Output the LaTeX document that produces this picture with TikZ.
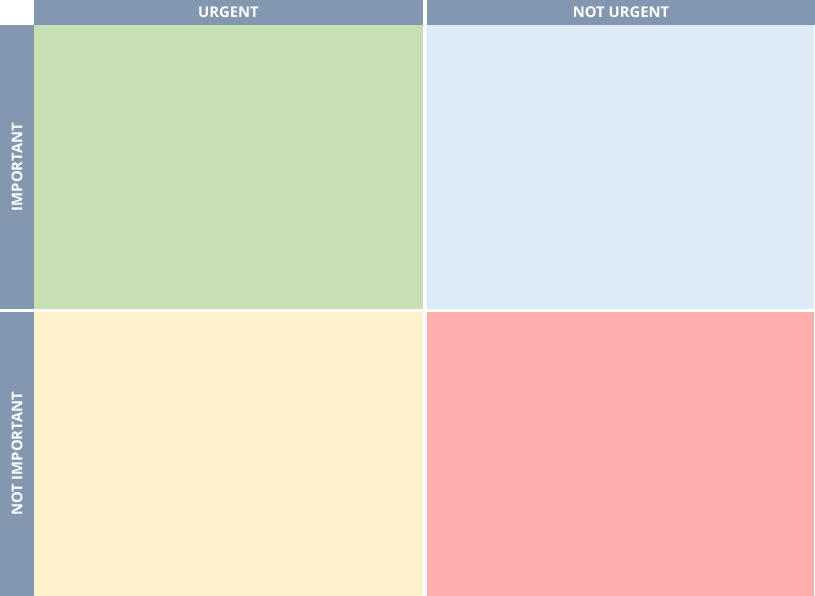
\documentclass[tikz,border=0pt]{standalone}
\usepackage{fontspec}
\setmainfont{Open Sans}
\definecolor{headgrey}{RGB}{132,151,176}
\definecolor{doGreen}{RGB}{198,224,180}
\definecolor{planBlue}{RGB}{221,235,247}
\definecolor{delegYellow}{RGB}{255,242,204}
\definecolor{dropRed}{RGB}{255,174,174}

\tikzset{
  cell/.style={anchor=north west,inner sep=0pt,outer sep=0pt,draw=none},
  headbar/.style={cell,fill=headgrey,text=white,font=\bfseries\fontsize{14.8}{17}\selectfont},
}

\begin{document}
\begin{tikzpicture}[x=1pt,y=-1pt]
        \fill[white] (0,0) rectangle (815,596);

        % column headers
        \node[headbar,minimum width=389pt,minimum height=25pt] (hUrg) at (34,0) {URGENT};
        \node[headbar,minimum width=388pt,minimum height=25pt] (hNotUrg) at (427,0) {NOT URGENT};

        % row headers
        \node[headbar,minimum width=34pt,minimum height=284pt] (hImp) at (0,25) {};
        \node[headbar,rotate=90,anchor=center,fill=none] (tImp) at (hImp.center) {IMPORTANT};
        \node[headbar,minimum width=34pt,minimum height=284pt] (hNotImp) at (0,312) {};
        \node[headbar,rotate=90,anchor=center,fill=none] (tNotImp) at (hNotImp.center) {NOT IMPORTANT};

        % quadrants
        \node[cell,fill=doGreen,minimum width=389pt,minimum height=284pt] (qDo) at (34,25) {};
        \node[cell,fill=planBlue,minimum width=387pt,minimum height=284pt] (qPlan) at (427,25) {};
        \node[cell,fill=delegYellow,minimum width=389pt,minimum height=284pt] (qDeleg) at (34,312) {};
        \node[cell,fill=dropRed,minimum width=387pt,minimum height=284pt] (qDrop) at (427,312) {};
    \end{tikzpicture}
\end{document}
